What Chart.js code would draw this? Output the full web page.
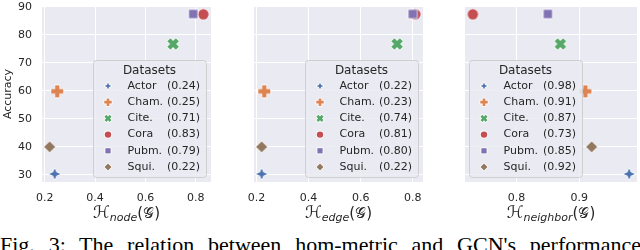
<!DOCTYPE html>
<html><head><meta charset="utf-8">
<script src="https://cdn.jsdelivr.net/npm/chart.js@4/dist/chart.umd.min.js"></script>
<style>
html,body{margin:0;padding:0;width:640px;height:250px;overflow:hidden;background:#fff;position:relative;}
canvas{position:absolute;top:0;}
#cap{position:absolute;left:0;top:234px;width:641px;font-family:"Liberation Serif","Times New Roman",serif;font-size:22px;line-height:22px;text-align:justify;text-align-last:justify;color:#000;}
</style></head><body>
<canvas id="c0" width="217" height="232" style="left:0px"></canvas>
<canvas id="c1" width="217" height="232" style="left:212px"></canvas>
<canvas id="c2" width="220" height="232" style="left:423px"></canvas>
<div id="cap">Fig. 3: The relation between hom-metric and GCN's performance</div>
<script>
// ---- data ----
const datasetNames = ['Actor', 'Cham.', 'Cite.', 'Cora', 'Pubm.', 'Squi.'];
const accuracy = [30.3, 59.8, 76.7, 87.3, 87.4, 40.0];
const hNode = [0.24, 0.25, 0.71, 0.83, 0.79, 0.22];
const hEdge = [0.22, 0.23, 0.74, 0.81, 0.80, 0.22];
const hNeighbor = [0.98, 0.91, 0.87, 0.73, 0.85, 0.92];
const xTicksNode = [0.2, 0.4, 0.6, 0.8];
const xTicksEdge = [0.2, 0.4, 0.6, 0.8];
const xTicksNeighbor = [0.8, 0.9];
const yTicks = [30, 40, 50, 60, 70, 80, 90];
const metricNames = ['node', 'edge', 'neighbor'];
const legendTitle = 'Datasets';
const yTitle = 'Accuracy';

// ---- styles ----
const BG = '#EAEAF2';
const TEXT = '#262626';
const colors = ['#4C72B0', '#DD8452', '#55A868', '#C44E52', '#8172B3', '#937860'];
const markerTypes = ['star4', 'plus', 'x', 'circle', 'square', 'diamond'];
const markerSizes = {star4: 5.6, plus: 6.0, x: 6.0, circle: 5.2, square: 4.2, diamond: 5.6};

function markerPath(ctx, type, cx, cy, s) {
  ctx.beginPath();
  if (type === 'circle') { ctx.arc(cx, cy, s, 0, Math.PI * 2); }
  else if (type === 'square') { ctx.rect(cx - s, cy - s, 2 * s, 2 * s); }
  else if (type === 'diamond') { ctx.moveTo(cx, cy - s); ctx.lineTo(cx + s, cy); ctx.lineTo(cx, cy + s); ctx.lineTo(cx - s, cy); ctx.closePath(); }
  else if (type === 'plus' || type === 'x') {
    const w = s * 0.36;
    const pts = [[-w,-s],[w,-s],[w,-w],[s,-w],[s,w],[w,w],[w,s],[-w,s],[-w,w],[-s,w],[-s,-w],[-w,-w]];
    const a = type === 'x' ? Math.PI / 4 : 0, c = Math.cos(a), si = Math.sin(a);
    pts.forEach((p, i) => { const x = cx + p[0]*c - p[1]*si, y = cy + p[0]*si + p[1]*c; i ? ctx.lineTo(x, y) : ctx.moveTo(x, y); });
    ctx.closePath();
  } else if (type === 'star4') {
    const inner = s * 0.42;
    for (let i = 0; i < 8; i++) {
      const ang = -Math.PI / 2 + i * Math.PI / 4, r = i % 2 ? inner : s;
      const x = cx + r * Math.cos(ang), y = cy + r * Math.sin(ang);
      i ? ctx.lineTo(x, y) : ctx.moveTo(x, y);
    }
    ctx.closePath();
  }
}
function drawMarker(ctx, type, cx, cy, s, fill, lw) {
  markerPath(ctx, type, cx, cy, s);
  if (lw > 0) { ctx.strokeStyle = '#ffffff'; ctx.lineWidth = lw * 2; ctx.lineJoin = 'round'; ctx.stroke(); }
  ctx.fillStyle = fill; ctx.fill();
}
function markerImage(type, color) {
  const s = markerSizes[type];
  const n = Math.ceil(2 * (s + 2));
  const cv = document.createElement('canvas'); cv.width = n; cv.height = n;
  drawMarker(cv.getContext('2d'), type, n / 2, n / 2, s, color, 0.7);
  return cv;
}
const markerImgs = markerTypes.map((t, i) => markerImage(t, colors[i]));

function limits(arr) {
  const lo = Math.min(...arr), hi = Math.max(...arr), m = (hi - lo) * 0.05;
  return [lo - m, hi + m];
}
const yLim = limits(accuracy);

const deco = {
  id: 'deco',
  beforeDraw(chart) {
    const {ctx, chartArea: a} = chart;
    ctx.save(); ctx.fillStyle = BG; ctx.fillRect(a.left, a.top, a.right - a.left, a.bottom - a.top); ctx.restore();
  },
  afterDatasetsDraw(chart, args, o) {
    const {ctx, chartArea: a} = chart;
    const W = 113, H = 117;
    const left = Math.round(o.side === 'left' ? a.left + 4 : a.right - 5 - W);
    const top = Math.round(a.bottom - 5 - H);
    ctx.save();
    ctx.beginPath();
    if (ctx.roundRect) ctx.roundRect(left + 0.5, top + 0.5, W, H, 3); else ctx.rect(left + 0.5, top + 0.5, W, H);
    ctx.fillStyle = 'rgba(234,234,242,0.85)'; ctx.fill();
    ctx.strokeStyle = 'rgba(204,204,204,0.9)'; ctx.lineWidth = 1; ctx.stroke();
    ctx.fillStyle = TEXT; ctx.textBaseline = 'middle';
    ctx.font = '12px "DejaVu Sans"'; ctx.textAlign = 'center';
    ctx.fillText(legendTitle, left + W / 2, top + 10.5);
    ctx.font = '11px "DejaVu Sans"';
    datasetNames.forEach((nm, i) => {
      const y = top + 26 + i * 16.2;
      drawMarker(ctx, markerTypes[i], left + 15, y, markerSizes[markerTypes[i]] * 0.62, colors[i], 0.8);
      ctx.fillStyle = TEXT;
      ctx.textAlign = 'left'; ctx.fillText(nm, left + 34.5, y);
      ctx.textAlign = 'right'; ctx.fillText('(' + o.hom[i].toFixed(2) + ')', left + 107, y);
    });
    ctx.restore();
  },
  afterDraw(chart, args, o) {
    const {ctx, chartArea: a} = chart;
    ctx.save();
    ctx.fillStyle = TEXT; ctx.textBaseline = 'alphabetic'; ctx.textAlign = 'left';
    const fH = '17px "DejaVu Serif", "DejaVu Sans", serif';
    const fS = 'italic 11px "DejaVu Sans"';
    const fP = '15px "DejaVu Sans"';
    const fG = '15px "DejaVu Serif", "DejaVu Sans", serif';
    const parts = [['ℋ', fH, 0], [o.sub, fS, 3], ['(', fP, 0], ['𝒢', fG, 0], [')', fP, 0]];
    let w = 0;
    parts.forEach(p => { ctx.font = p[1]; p.push(ctx.measureText(p[0]).width); w += p[3]; });
    let x = (a.left + a.right) / 2 - w / 2;
    const base = 218;
    parts.forEach(p => { ctx.font = p[1]; ctx.fillText(p[0], x, base + p[2]); x += p[3]; });
    ctx.restore();
  }
};

function makeChart(id, hom, xTicks, panel) {
  const xLim = limits(hom);
  const first = panel === 0;
  return new Chart(document.getElementById(id), {
    type: 'scatter',
    data: {datasets: [{
      data: hom.map((x, i) => ({x: x, y: accuracy[i]})),
      pointStyle: markerImgs, pointRadius: 5, pointHoverRadius: 5, clip: false
    }]},
    options: {
      responsive: false, animation: false, devicePixelRatio: 1, events: [],
      layout: {padding: {top: 5, left: 0, right: 0, bottom: 0}},
      plugins: {
        legend: {display: false}, tooltip: {enabled: false},
        deco: {hom: hom, side: panel === 2 ? 'left' : 'right', sub: metricNames[panel]}
      },
      scales: {
        x: {
          type: 'linear', min: xLim[0], max: xLim[1],
          afterBuildTicks: s => { s.ticks = xTicks.map(v => ({value: v})); },
          afterFit: s => { s.height = 50; s.paddingLeft = 0; s.paddingRight = 0; },
          grid: {color: '#ffffff', lineWidth: 1, drawTicks: false},
          border: {display: false},
          ticks: {font: {family: 'DejaVu Sans', size: 11}, color: TEXT, padding: 10, maxRotation: 0, autoSkip: false,
                  callback: v => Number(v).toFixed(1)}
        },
        y: {
          type: 'linear', min: yLim[0], max: yLim[1],
          afterBuildTicks: s => { s.ticks = yTicks.map(v => ({value: v})); },
          afterFit: s => { s.width = 42; s.paddingTop = 0; s.paddingBottom = 0; },
          grid: {color: '#ffffff', lineWidth: 1, drawTicks: false},
          border: {display: false},
          ticks: {font: {family: 'DejaVu Sans', size: 11}, color: first ? TEXT : 'rgba(0,0,0,0)', padding: 10, callback: v => String(v)},
          title: {display: first, text: yTitle, color: TEXT, font: {family: 'DejaVu Sans', size: 11}, padding: {top: 2, bottom: 0}}
        }
      }
    },
    plugins: [deco]
  });
}
makeChart('c0', hNode, xTicksNode, 0);
makeChart('c1', hEdge, xTicksEdge, 1);
makeChart('c2', hNeighbor, xTicksNeighbor, 2);
</script>
</body></html>
